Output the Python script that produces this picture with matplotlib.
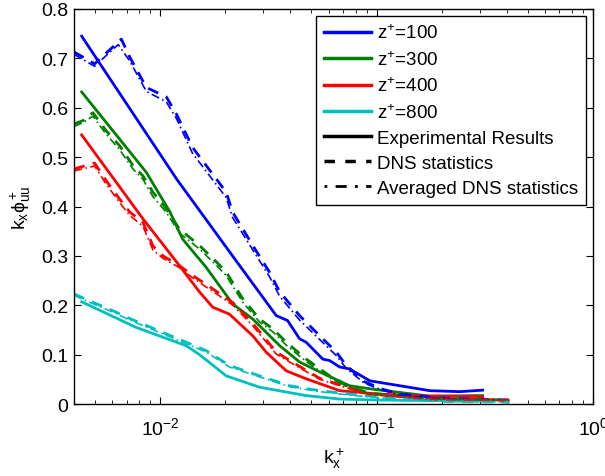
import matplotlib
matplotlib.use("Agg")
import matplotlib.pyplot as plt
from matplotlib.lines import Line2D

plt.rcParams['font.family'] = ['Liberation Sans', 'DejaVu Sans']
plt.rcParams['mathtext.fontset'] = 'custom'
plt.rcParams['mathtext.rm'] = 'Liberation Sans'
plt.rcParams['mathtext.it'] = 'Liberation Sans'
plt.rcParams['mathtext.bf'] = 'Liberation Sans:bold'
plt.rcParams['mathtext.default'] = 'regular'

# ---------------- data ----------------
labels = [r'$z^{+}$=100', r'$z^{+}$=300', r'$z^{+}$=400', r'$z^{+}$=800']
colors = ['#0000ff', '#008000', '#ff0000', '#00bfbf']

# Experimental results (solid)
exp_k_100 = [0.00434, 0.0119, 0.0216, 0.0344, 0.0388, 0.0441, 0.0473, 0.0564, 0.0607, 0.0675, 0.075, 0.093, 0.128, 0.176, 0.242, 0.309]
exp_v_100 = [0.745, 0.456, 0.300, 0.179, 0.169, 0.132, 0.125, 0.091, 0.088, 0.075, 0.071, 0.047, 0.037, 0.027, 0.025, 0.028]
exp_k_300 = [0.00434, 0.00864, 0.0111, 0.0127, 0.0163, 0.0216, 0.0268, 0.0357, 0.0441, 0.0546, 0.075, 0.096, 0.176, 0.309]
exp_v_300 = [0.632, 0.469, 0.389, 0.334, 0.277, 0.203, 0.172, 0.118, 0.085, 0.065, 0.037, 0.030, 0.016, 0.017]
exp_k_400 = [0.00434, 0.00833, 0.0119, 0.0152, 0.0175, 0.0209, 0.0268, 0.0309, 0.0383, 0.0473, 0.0675, 0.103, 0.176, 0.309]
exp_v_400 = [0.545, 0.375, 0.288, 0.227, 0.196, 0.182, 0.138, 0.105, 0.067, 0.051, 0.027, 0.020, 0.016, 0.015]
exp_k_800 = [0.00434, 0.00776, 0.0132, 0.0152, 0.0202, 0.0288, 0.0473, 0.0675, 0.103, 0.176, 0.309]
exp_v_800 = [0.207, 0.155, 0.118, 0.100, 0.057, 0.034, 0.017, 0.010, 0.008, 0.007, 0.006]

# DNS statistics (dashed)
dns_k_100 = [0.0040, 0.00498, 0.00662, 0.00723, 0.00864, 0.01068, 0.0119, 0.0141, 0.0202, 0.0216, 0.0268, 0.0320, 0.0357, 0.0441, 0.0527, 0.0652, 0.0725, 0.088, 0.1066, 0.1277, 0.1954, 0.411]
dns_v_100 = [0.713, 0.689, 0.739, 0.703, 0.641, 0.622, 0.587, 0.520, 0.429, 0.389, 0.321, 0.267, 0.227, 0.179, 0.145, 0.105, 0.078, 0.045, 0.030, 0.020, 0.012, 0.008]
dns_k_300 = [0.0040, 0.0044, 0.00489, 0.00564, 0.0065, 0.00749, 0.00833, 0.00926, 0.01068, 0.0123, 0.0152, 0.01818, 0.0202, 0.0241, 0.0288, 0.0332, 0.0383, 0.0473, 0.0607, 0.0725, 0.0929, 0.176, 0.411]
dns_v_300 = [0.567, 0.574, 0.590, 0.553, 0.523, 0.483, 0.462, 0.429, 0.395, 0.354, 0.321, 0.288, 0.267, 0.213, 0.172, 0.152, 0.125, 0.091, 0.057, 0.037, 0.022, 0.011, 0.008]
dns_k_400 = [0.0040, 0.00498, 0.00564, 0.0065, 0.00723, 0.00833, 0.00926, 0.0103, 0.0123, 0.01417, 0.01753, 0.0217, 0.02683, 0.0344, 0.0426, 0.0546, 0.0699, 0.0929, 0.176, 0.411]
dns_v_400 = [0.476, 0.488, 0.452, 0.415, 0.389, 0.368, 0.320, 0.300, 0.280, 0.260, 0.233, 0.205, 0.163, 0.105, 0.080, 0.052, 0.037, 0.020, 0.010, 0.008]
dns_k_800 = [0.0040, 0.00489, 0.00605, 0.00698, 0.00864, 0.01068, 0.01274, 0.01634, 0.0209, 0.0288, 0.0396, 0.0546, 0.075, 0.1277, 0.2174, 0.411]
dns_v_800 = [0.223, 0.206, 0.189, 0.176, 0.159, 0.142, 0.128, 0.108, 0.078, 0.057, 0.037, 0.027, 0.020, 0.010, 0.005, 0.004]

# Averaged DNS statistics (dash-dot)
avg_k_100 = [0.0040, 0.00498, 0.0064, 0.00723, 0.00864, 0.01068, 0.0119, 0.0141, 0.0202, 0.0216, 0.0268, 0.0320, 0.0357, 0.0441, 0.0527, 0.0652, 0.0725, 0.088, 0.1066, 0.1277, 0.1954, 0.411]
avg_v_100 = [0.708, 0.684, 0.728, 0.695, 0.633, 0.612, 0.578, 0.508, 0.418, 0.378, 0.312, 0.258, 0.218, 0.170, 0.137, 0.098, 0.072, 0.042, 0.028, 0.018, 0.011, 0.007]
avg_k_300 = [0.0040, 0.0044, 0.00489, 0.00564, 0.0065, 0.00749, 0.00833, 0.00926, 0.01068, 0.0123, 0.0152, 0.01818, 0.0202, 0.0241, 0.0288, 0.0332, 0.0383, 0.0473, 0.0607, 0.0725, 0.0929, 0.176, 0.411]
avg_v_300 = [0.562, 0.570, 0.583, 0.546, 0.515, 0.476, 0.455, 0.420, 0.388, 0.346, 0.314, 0.281, 0.260, 0.206, 0.166, 0.146, 0.119, 0.086, 0.053, 0.035, 0.020, 0.010, 0.007]
avg_k_400 = [0.0040, 0.00498, 0.00564, 0.0065, 0.00723, 0.00833, 0.00926, 0.0103, 0.0123, 0.01417, 0.01753, 0.0217, 0.02683, 0.0344, 0.0426, 0.0546, 0.0699, 0.0929, 0.176, 0.411]
avg_v_400 = [0.472, 0.482, 0.445, 0.408, 0.382, 0.360, 0.312, 0.295, 0.276, 0.255, 0.228, 0.200, 0.158, 0.101, 0.077, 0.050, 0.035, 0.019, 0.009, 0.007]
avg_k_800 = [0.0040, 0.00489, 0.00605, 0.00698, 0.00864, 0.01068, 0.01274, 0.01634, 0.0209, 0.0288, 0.0396, 0.0546, 0.075, 0.1277, 0.2174, 0.411]
avg_v_800 = [0.220, 0.203, 0.186, 0.173, 0.156, 0.139, 0.125, 0.105, 0.075, 0.055, 0.035, 0.025, 0.018, 0.009, 0.005, 0.004]

legend_styles = ['Experimental Results', 'DNS statistics', 'Averaged DNS statistics']

exp_data = [(exp_k_100, exp_v_100), (exp_k_300, exp_v_300), (exp_k_400, exp_v_400), (exp_k_800, exp_v_800)]
dns_data = [(dns_k_100, dns_v_100), (dns_k_300, dns_v_300), (dns_k_400, dns_v_400), (dns_k_800, dns_v_800)]
avg_data = [(avg_k_100, avg_v_100), (avg_k_300, avg_v_300), (avg_k_400, avg_v_400), (avg_k_800, avg_v_800)]

# ---------------- figure ----------------
fig = plt.figure(figsize=(6.05, 4.77), dpi=100)
ax = fig.add_axes([74/605, 1-405/477, (593-74)/605, (405-10)/477])

lw = 2.0
for c, (k, v) in zip(colors, exp_data):
    ax.plot(k, v, '-', color=c, lw=lw)
for c, (k, v) in zip(colors, dns_data):
    ax.plot(k, v, '--', color=c, lw=lw, dashes=(4, 3))
for c, (k, v) in zip(colors, avg_data):
    ax.plot(k, v, '-.', color=c, lw=1.2, dashes=(5, 2, 1, 2))

ax.set_xscale('log')
ax.set_xlim(0.004, 1)
ax.set_ylim(0, 0.8)
ax.set_yticks([0, 0.1, 0.2, 0.3, 0.4, 0.5, 0.6, 0.7, 0.8])
ax.set_yticklabels(['0', '0.1', '0.2', '0.3', '0.4', '0.5', '0.6', '0.7', '0.8'])
ax.tick_params(which='both', direction='in', top=True, right=True, labelsize=14)
ax.tick_params(which='major', length=5, width=0.8)
ax.tick_params(which='minor', length=3, width=0.6)
ax.tick_params(axis='x', pad=9)
ax.tick_params(axis='y', pad=4)
for s in ax.spines.values():
    s.set_linewidth(1.0)

ax.set_xlabel(r'$k_x^+$', fontsize=14, labelpad=5)
ax.set_ylabel(r'$k_x\phi^+_{uu}$', fontsize=14, labelpad=6)

handles = [Line2D([], [], color=c, lw=2.5, ls='-') for c in colors]
handles += [Line2D([], [], color='k', lw=2.5, ls='-'),
            Line2D([], [], color='k', lw=2.5, ls='--', dashes=(3, 3)),
            Line2D([], [], color='k', lw=2.0, ls='-.', dashes=(1, 3, 4, 3))]
leg = ax.legend(handles, labels + legend_styles, loc='upper right',
                bbox_to_anchor=(0.9865, 0.982), fontsize=13.5, frameon=True,
                fancybox=False, edgecolor='k', framealpha=1, borderpad=0.4,
                labelspacing=0.42, handlelength=2.55, handletextpad=0.32,
                borderaxespad=0)
leg.get_frame().set_linewidth(1.0)

fig.savefig('out.png', dpi=100)
